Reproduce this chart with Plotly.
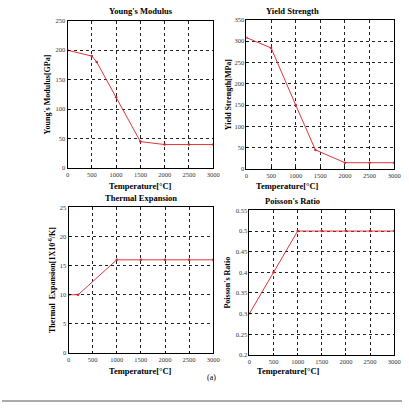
import plotly.graph_objects as go

# Data
ym_T = [0, 500, 600, 1000, 1500, 2000, 2500, 3000]
ym_V = [200, 190, 180, 120, 45, 40, 40, 40]
ys_T = [0, 500, 1000, 1400, 2000, 2500, 3000]
ys_V = [308, 284, 150, 45, 15, 15, 15]
te_T = [0, 200, 1000, 1500, 2000, 2500, 3000]
te_V = [10, 10, 16, 16, 16, 16, 16]
pr_T = [0, 500, 1000, 1500, 2000, 2500, 3000]
pr_V = [0.3, 0.4, 0.5, 0.5, 0.5, 0.5, 0.5]

W, H = 409, 408
FONT = "Liberation Serif"

def fx(px):
    return px / W

def fy(py):
    return 1 - py / H

panels = [
    dict(x=(67, 216), y=(167, 17), T=ym_T, V=ym_V, yr=[0, 250], dt=50,
         title="Young's Modulus", tpos=(142, 7), ytitle="Young's Modulus[GPa]", ytx=46, xtpos=(142, 185)),
    dict(x=(250, 401), y=(168, 16), T=ys_T, V=ys_V, yr=[0, 350], dt=50,
         title="Yield Strength", tpos=(326, 7), ytitle="Yield Strength[MPa]", ytx=232, xtpos=(326, 185)),
    dict(x=(68, 216), y=(355, 207), T=te_T, V=te_V, yr=[0, 25], dt=5,
         title="Thermal Expansion", tpos=(142, 197), ytitle="Thermal  Expansion[1X10<sup>-6</sup>/K]", ytx=51, xtpos=(142, 373)),
    dict(x=(253, 401), y=(357, 210), T=pr_T, V=pr_V, yr=[0.2, 0.55], dt=0.05,
         title="Poisson's Ratio", tpos=(327, 200), ytitle="Poisson's Ratio", ytx=231, xtpos=(327, 373)),
]

fig = go.Figure()
annotations = []
for i, p in enumerate(panels):
    n = "" if i == 0 else str(i + 1)
    fig.add_trace(go.Scatter(x=p["T"], y=p["V"], mode="lines+markers",
                             line=dict(color="#e0353a", width=1),
                             marker=dict(color="#d02830", size=2.5),
                             xaxis="x" + n, yaxis="y" + n, showlegend=False))
    axcommon = dict(showline=True, linecolor="black", linewidth=1, mirror=True,
                    showgrid=True, gridcolor="#222", griddash="dot", gridwidth=0.8,
                    zeroline=False, ticks="inside", ticklen=2, tickcolor="black",
                    tickfont=dict(family=FONT, size=6.5, color="#333"))
    fig.update_layout(**{
        "xaxis" + n: dict(domain=[fx(p["x"][0]), fx(p["x"][1])], range=[0, 3000], dtick=500,
                          anchor="y" + n, **axcommon),
        "yaxis" + n: dict(domain=[fy(p["y"][0]), fy(p["y"][1])], range=p["yr"], dtick=p["dt"],
                          anchor="x" + n, **axcommon),
    })
    annotations.append(dict(text="<b>" + p["title"] + "</b>", x=fx(p["tpos"][0]), y=fy(p["tpos"][1]),
                            xref="paper", yref="paper", showarrow=False,
                            font=dict(family=FONT, size=8.5, color="black"), yanchor="middle"))
    annotations.append(dict(text="<b>Temperature[°C]</b>", x=fx(p["xtpos"][0]), y=fy(p["xtpos"][1]),
                            xref="paper", yref="paper", showarrow=False,
                            font=dict(family=FONT, size=8.5, color="black"), yanchor="middle"))
    annotations.append(dict(text="<b>" + p["ytitle"] + "</b>", x=fx(p["ytx"]),
                            y=(fy(p["y"][0]) + fy(p["y"][1])) / 2,
                            xref="paper", yref="paper", showarrow=False, textangle=-90,
                            font=dict(family=FONT, size=8, color="black"),
                            xanchor="center", yanchor="middle"))

annotations.append(dict(text="(a)", x=fx(214), y=fy(387), xref="paper", yref="paper",
                        showarrow=False, font=dict(family=FONT, size=8, color="black")))

fig.update_layout(width=W, height=H, margin=dict(l=0, r=0, t=0, b=0),
                  paper_bgcolor="white", plot_bgcolor="white",
                  annotations=annotations,
                  shapes=[dict(type="line", xref="paper", yref="paper",
                               x0=0, x1=1, y0=fy(404), y1=fy(404),
                               line=dict(color="#aaaaaa", width=2))])

fig.write_html("out.html")
